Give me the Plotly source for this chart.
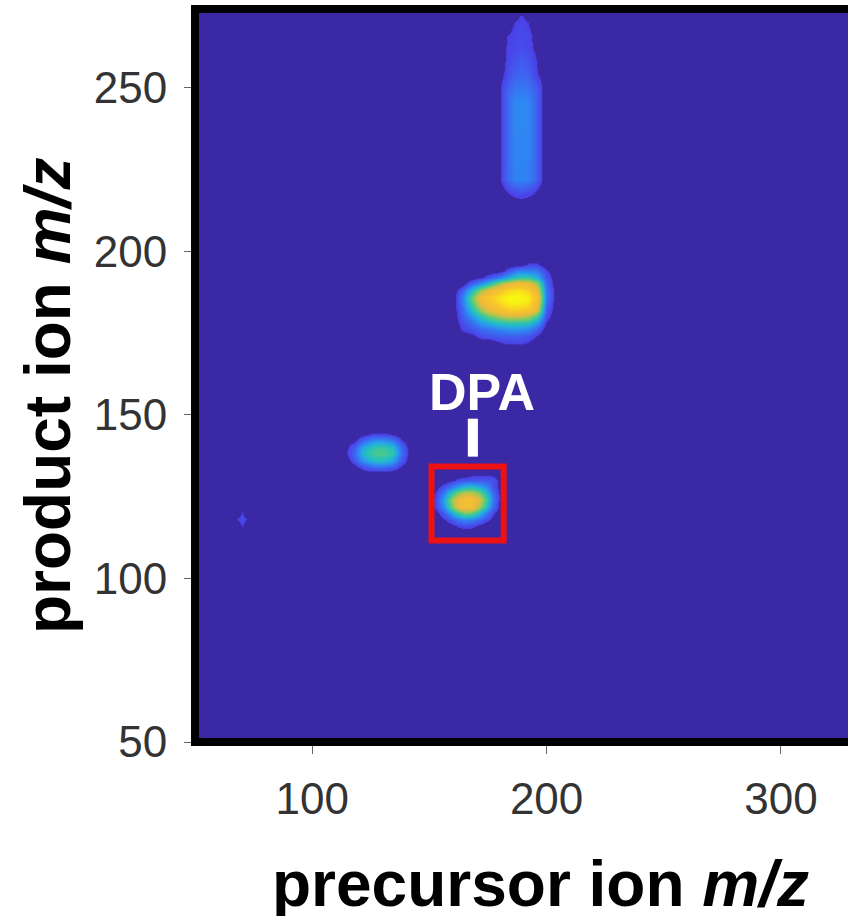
import plotly.graph_objects as go

BG = "#3b28a5"
colorscale = [
    [0.0, BG], [0.05, BG], [0.0501, "#4b3fe6"], [0.13, "#4060f0"], [0.22, "#2f85f2"],
    [0.3, "#2aa5e6"], [0.38, "#22c0c0"], [0.48, "#4ec98a"], [0.6, "#a8c850"],
    [0.72, "#eeb83c"], [0.88, "#f8c828"], [1.0, "#f8f810"],
]

main_x = [160, 164, 168, 172, 176, 180, 184, 188, 192, 196, 200, 204]
main_y = [198, 196, 194, 192, 190, 188, 186, 184, 182, 180, 178, 176, 174, 172, 170]
main_z = [
    [0, 0, 0, 0, 0, 0, 0, 0, 0, 0, 0, 0],
    [0, 0, 0, 0, 0, 0, 0, 0, .06, .06, 0, 0],
    [0, 0, 0, 0, 0, 0, .1, .2, .2, .18, .06, 0],
    [0, 0, 0, .04, .1, .2, .32, .42, .42, .32, .1, 0],
    [0, 0, .12, .25, .4, .6, .72, .78, .75, .58, .15, 0],
    [0, .12, .35, .6, .75, .85, .93, .95, .9, .72, .18, 0],
    [0, .2, .5, .78, .88, .96, 1, 1, .97, .82, .2, 0],
    [0, .18, .45, .72, .83, .92, .98, .98, .94, .78, .16, 0],
    [0, .15, .35, .58, .72, .82, .88, .88, .84, .68, .12, 0],
    [0, .12, .25, .4, .52, .6, .65, .65, .6, .45, .08, 0],
    [0, .08, .15, .26, .32, .38, .4, .4, .38, .26, .04, 0],
    [0, .06, .1, .15, .18, .22, .25, .25, .22, .12, 0, 0],
    [0, 0, .02, .08, .1, .12, .12, .12, .1, .04, 0, 0],
    [0, 0, 0, 0, 0, .05, .07, .07, .05, 0, 0, 0],
    [0, 0, 0, 0, 0, 0, 0, 0, 0, 0, 0, 0],
]

dpa_x = [150, 153, 156, 159, 162, 165, 168, 171, 174, 177, 180, 183]
dpa_y = [134, 132, 130, 128, 126, 124, 122, 120, 118, 116, 114]
dpa_z = [
    [0, 0, 0, 0, 0, 0, 0, 0, 0, 0, 0, 0],
    [0, 0, 0, 0, 0, 0, .03, .03, .03, .03, 0, 0],
    [0, 0, 0, .02, .07, .09, .1, .1, .1, .09, .03, 0],
    [0, .03, .09, .18, .28, .36, .38, .32, .24, .1, .02, 0],
    [0, .07, .2, .4, .55, .64, .64, .55, .38, .16, .03, 0],
    [0, .1, .3, .55, .74, .8, .8, .7, .48, .2, .03, 0],
    [0, .09, .25, .5, .72, .8, .78, .62, .4, .15, .02, 0],
    [0, .03, .12, .28, .45, .55, .52, .38, .2, .07, 0, 0],
    [0, 0, .04, .1, .18, .22, .2, .15, .08, .02, 0, 0],
    [0, 0, 0, .02, .06, .08, .07, .03, 0, 0, 0, 0],
    [0, 0, 0, 0, 0, 0, 0, 0, 0, 0, 0, 0],
]

left_x = [114, 118, 122, 126, 130, 134, 138, 142]
left_y = [146, 144, 142, 140, 138, 136, 134, 132]
left_z = [
    [0, 0, 0, 0, 0, 0, 0, 0],
    [0, 0, .03, .07, .07, .05, 0, 0],
    [0, .03, .15, .25, .26, .2, .06, 0],
    [.02, .13, .32, .42, .44, .38, .15, 0],
    [.03, .15, .36, .47, .48, .42, .17, 0],
    [0, .1, .26, .36, .38, .3, .11, 0],
    [0, .01, .08, .14, .15, .1, .03, 0],
    [0, 0, 0, 0, 0, 0, 0, 0],
]

tall_x = [177, 180, 183, 186, 189, 192, 195, 198, 201]
tall_y = [274, 272, 270, 266, 262, 258, 254, 250, 246, 242, 238, 234, 230, 226, 222, 218, 214]
tall_z = [
    [0, 0, 0, 0, 0, 0, 0, 0, 0],
    [0, 0, 0, .03, .055, .03, 0, 0, 0],
    [0, 0, 0, .05, .07, .05, 0, 0, 0],
    [0, 0, .05, .07, .08, .07, .03, 0, 0],
    [0, 0, .06, .07, .08, .07, .04, 0, 0],
    [0, 0, .07, .1, .12, .1, .06, 0, 0],
    [0, .02, .08, .13, .14, .13, .07, .02, 0],
    [0, .05, .13, .18, .19, .18, .13, .05, 0],
    [0, .05, .15, .22, .23, .22, .15, .05, 0],
    [0, .05, .15, .22, .23, .22, .15, .05, 0],
    [0, .05, .15, .22, .23, .22, .15, .05, 0],
    [0, .05, .15, .22, .22, .22, .15, .05, 0],
    [0, .05, .15, .22, .22, .22, .15, .05, 0],
    [0, .05, .15, .21, .22, .21, .15, .05, 0],
    [0, .05, .15, .21, .22, .21, .15, .05, 0],
    [0, 0, .05, .08, .1, .08, .05, 0, 0],
    [0, 0, 0, 0, 0, 0, 0, 0, 0],
]

tiny_x = [66, 68, 70, 72, 74]
tiny_y = [122, 120, 118, 116, 114]
tiny_z = [
    [0, 0, 0, 0, 0],
    [0, 0, .06, 0, 0],
    [0, .055, .08, .055, 0],
    [0, 0, .06, 0, 0],
    [0, 0, 0, 0, 0],
]

x_ticks = [100, 200, 300]
y_ticks = [50, 100, 150, 200, 250]

fig = go.Figure()
for xs, ys, zs in [(main_x, main_y, main_z), (dpa_x, dpa_y, dpa_z), (left_x, left_y, left_z),
                   (tall_x, tall_y, tall_z), (tiny_x, tiny_y, tiny_z)]:
    fig.add_trace(go.Heatmap(x=xs, y=ys[::-1], z=zs[::-1], zmin=0, zmax=1, zsmooth="best",
                             colorscale=colorscale, showscale=False, hoverinfo="skip"))

FONT = "Liberation Sans, Arial, sans-serif"
TICKCOL = "#333333"
pw, ph = 848 - 195, 916 - 9 - 174
fig.update_layout(
    width=848, height=916, autosize=False,
    margin=dict(l=195, r=0, t=9, b=174, pad=0),
    paper_bgcolor="white", plot_bgcolor=BG, showlegend=False,
    xaxis=dict(range=[50, 328.6], tickvals=x_ticks, ticks="outside", ticklen=11, tickwidth=1,
               tickcolor="#666666", showgrid=False, zeroline=False, showline=False,
               ticklabelstandoff=7, tickfont=dict(family=FONT, size=44, color=TICKCOL)),
    yaxis=dict(range=[50, 274], tickvals=y_ticks, ticks="outside", ticklen=10, tickwidth=1,
               tickcolor="#666666", showgrid=False, zeroline=False, showline=False,
               ticklabelstandoff=8, tickfont=dict(family=FONT, size=44, color=TICKCOL)),
    shapes=[
        dict(type="rect", xref="paper", yref="paper", x0=0, x1=1.05, y0=0, y1=1,
             line=dict(color="black", width=8), layer="above"),
        dict(type="rect", xref="x", yref="y", x0=150.9, x1=181.7, y0=111.6, y1=134.2,
             line=dict(color="#ee1111", width=6), layer="above"),
        dict(type="rect", xref="x", yref="y", x0=166.4, x1=170.7, y0=137.2, y1=148.8,
             line=dict(width=0), fillcolor="white", layer="above"),
    ],
    annotations=[
        dict(x=172.6, y=157, xref="x", yref="y", text="<b>DPA</b>", showarrow=False,
             xanchor="center", yanchor="middle", font=dict(family=FONT, size=52, color="white")),
        dict(x=(540 - 195) / pw, y=(742 - 884) / ph, xref="paper", yref="paper",
             text="<b>precursor ion <i>m/z</i></b>", showarrow=False,
             xanchor="center", yanchor="middle", font=dict(family=FONT, size=64, color="black")),
        dict(x=(48 - 195) / pw, y=(742 - 396) / ph, xref="paper", yref="paper",
             text="<b>product ion <i>m/z</i></b>", textangle=-90, showarrow=False,
             xanchor="center", yanchor="middle", font=dict(family=FONT, size=64, color="black")),
    ],
)

fig.write_html("out.html", config={"displayModeBar": False},
               post_script="document.body.style.margin='0';")
